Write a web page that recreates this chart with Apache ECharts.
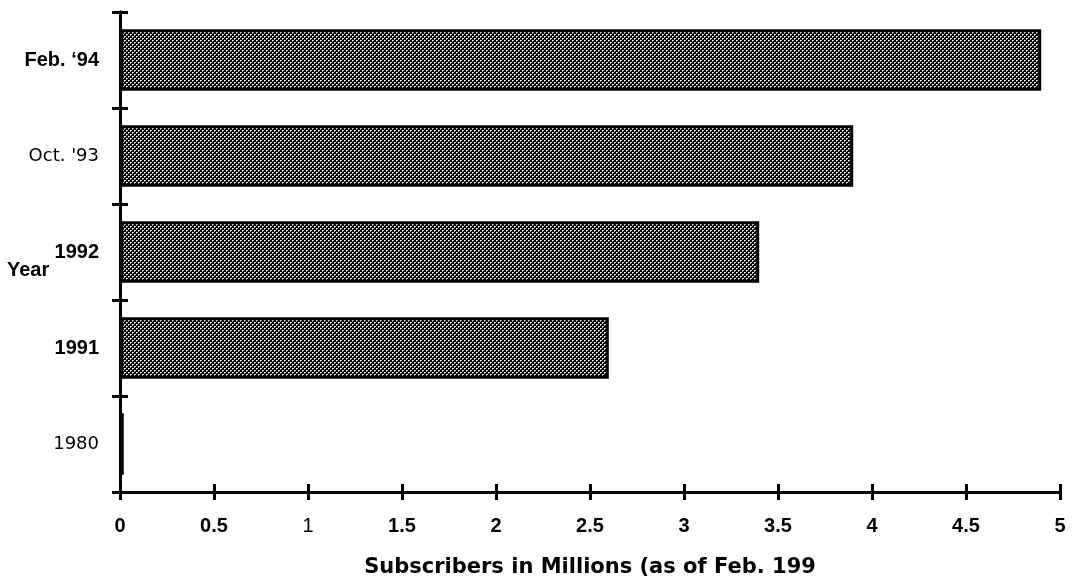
<!DOCTYPE html>
<html>
<head>
<meta charset="utf-8">
<style>
  html, body { margin: 0; padding: 0; background: #fff; }
  #chart { width: 1073px; height: 580px; }
</style>
<script src="https://cdn.jsdelivr.net/npm/echarts@6/dist/echarts.min.js"></script>
</head>
<body>
<div id="chart"></div>
<script>
// Subscribers by year (millions), bottom to top
const years = ['1980', '1991', '1992', "Oct. '93", 'Feb. \u201894'];
const subscribers = [0.02, 2.6, 3.4, 3.9, 4.9];
const xTicks = [0, 0.5, 1, 1.5, 2, 2.5, 3, 3.5, 4, 4.5, 5];
const xTitle = 'Subscribers in Millions (as of Feb. 199';
const yTitle = 'Year';

// dotted halftone fill for the bars
function halftone() {
  const c = document.createElement('canvas');
  c.width = 4; c.height = 4;
  const ctx = c.getContext('2d');
  ctx.fillStyle = '#000';
  ctx.fillRect(0, 0, 4, 4);
  ctx.fillStyle = '#fff';
  ctx.fillRect(0, 0, 1, 1);
  ctx.fillRect(2, 2, 1, 1);
  ctx.fillStyle = '#ccc';
  ctx.fillRect(1, 0, 1, 1);
  ctx.fillRect(3, 2, 1, 1);
  ctx.fillStyle = '#999';
  ctx.fillRect(0, 1, 1, 1);
  ctx.fillRect(2, 3, 1, 1);
  return c;
}

const plainYears = new Set(["Oct. '93", '1980']);
const chart = echarts.init(document.getElementById('chart'));

const axisBase = {
  axisLine: { show: true, lineStyle: { color: '#000', width: 3 } },
  splitLine: { show: false }
};

chart.setOption({
  animation: false,
  backgroundColor: '#fff',
  grid: { left: 120, right: 13, top: 12, bottom: 88, outerBoundsMode: 'none', containLabel: false },
  xAxis: [
    Object.assign({}, axisBase, {
      type: 'value', min: xTicks[0], max: xTicks[xTicks.length - 1], interval: 0.5,
      axisTick: { show: true, length: 8, lineStyle: { color: '#000', width: 3 } },
      axisLabel: {
        margin: 24,
        formatter: v => v === 1 ? '{n|' + v + '}' : '{b|' + v + '}',
        rich: {
          b: { fontFamily: 'Liberation Sans', fontWeight: 'bold', fontSize: 20, color: '#000' },
          n: { fontFamily: 'Liberation Sans', fontWeight: 'normal', fontSize: 20, color: '#000' }
        }
      },
      name: xTitle,
      nameLocation: 'middle',
      nameGap: 65,
      nameTextStyle: { fontFamily: 'DejaVu Sans', fontWeight: 'bold', fontSize: 21, color: '#000' }
    }),
    Object.assign({}, axisBase, {
      type: 'value', min: 0, max: 5, interval: 0.5, position: 'bottom',
      axisTick: { show: true, inside: true, length: 8, lineStyle: { color: '#000', width: 3 } },
      axisLabel: { show: false }
    })
  ],
  yAxis: [
    Object.assign({}, axisBase, {
      type: 'category', data: years,
      axisTick: { show: true, length: 8, lineStyle: { color: '#000', width: 3 } },
      axisLabel: {
        margin: 21,
        formatter: v => plainYears.has(v) ? '{p|' + v + '}' : '{b|' + v + '}',
        rich: {
          b: { fontFamily: 'Liberation Sans', fontWeight: 'bold', fontSize: 20, color: '#000' },
          p: { fontFamily: 'DejaVu Sans', fontWeight: 'normal', fontSize: 18, color: '#000' }
        }
      }
    }),
    Object.assign({}, axisBase, {
      type: 'category', data: years, position: 'left',
      axisTick: { show: true, inside: true, length: 8, lineStyle: { color: '#000', width: 3 } },
      axisLabel: { show: false }
    })
  ],
  graphic: [{
    type: 'text', left: 7, top: 260,
    style: { text: yTitle, fontFamily: 'Liberation Sans', fontWeight: 'bold', fontSize: 20, fill: '#000' }
  }],
  series: [{
    type: 'bar',
    data: subscribers,
    barCategoryGap: '36%',
    itemStyle: {
      color: { image: halftone(), repeat: 'repeat' },
      borderColor: '#000',
      borderWidth: 3
    }
  }]
});
</script>
</body>
</html>
